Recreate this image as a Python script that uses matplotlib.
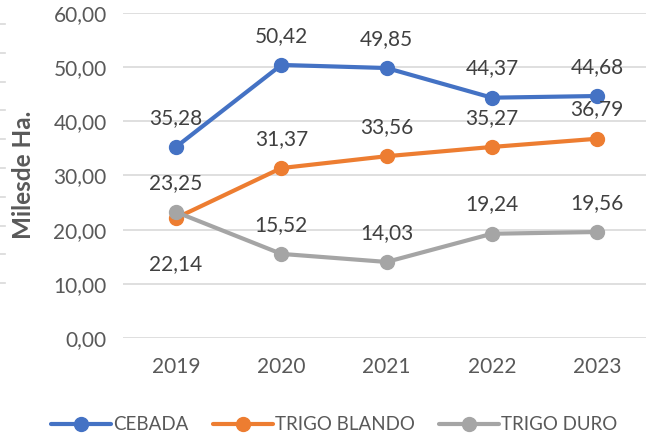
import matplotlib.pyplot as plt
from matplotlib.lines import Line2D

plt.rcParams['font.family'] = ['Lato', 'DejaVu Sans']

years = ['2019', '2020', '2021', '2022', '2023']
cebada = [35.28, 50.42, 49.85, 44.37, 44.68]
trigo_blando = [22.14, 31.37, 33.56, 35.27, 36.79]
trigo_duro = [23.25, 15.52, 14.03, 19.24, 19.56]

series = [
    ('CEBADA', cebada, '#4472C4'),
    ('TRIGO BLANDO', trigo_blando, '#ED7D31'),
    ('TRIGO DURO', trigo_duro, '#A5A5A5'),
]

def fmt(v):
    return f'{v:.2f}'.replace('.', ',')

fig = plt.figure(figsize=(6.46, 4.36), dpi=100)
ax = fig.add_axes([0.191, 0.225, 0.815, 0.745])

x = list(range(len(years)))
for name, vals, col in series:
    ax.plot(x, vals, color=col, lw=3, marker='o', ms=10, label=name,
            solid_capstyle='round')
    for i, v in enumerate(vals):
        dy = 21
        if name == 'TRIGO BLANDO' and i == 0:
            dy = -33
        ax.annotate(fmt(v), (i, v), xytext=(0, dy), textcoords='offset points',
                    ha='center', va='center', fontsize=15, color='#404040')

ax.set_xlim(-0.5, 4.5)
ax.set_ylim(0, 60)
ax.set_yticks(range(0, 61, 10))
ax.set_yticklabels([fmt(t) for t in range(0, 61, 10)])
ax.set_xticks(x)
ax.set_xticklabels(years)
ax.tick_params(length=0, labelsize=15, labelcolor='#595959', pad=12)
ax.tick_params(axis='x', pad=14)
ax.grid(axis='y', color='#D9D9D9', lw=1.2)
ax.set_axisbelow(True)
for s in ax.spines.values():
    s.set_visible(False)

fig.text(0.036, 0.60, 'Milesde Ha.', rotation=90, ha='center', va='center',
         fontsize=17.5, fontweight='bold', color='#595959')

# small tick marks cut off at the left edge
for k in range(10):
    yy = 1 - (24 + k * 28.8) / 436
    fig.add_artist(Line2D([0, 0.008], [yy, yy], color='#D9D9D9', lw=1.2))

ax.legend(loc='lower center', bbox_to_anchor=(0.4, -0.345), ncol=3,
          frameon=False, fontsize=13.5, labelcolor='#595959', handlelength=3.2,
          columnspacing=1.3, handletextpad=0.1)

fig.savefig('out.png', dpi=100)
